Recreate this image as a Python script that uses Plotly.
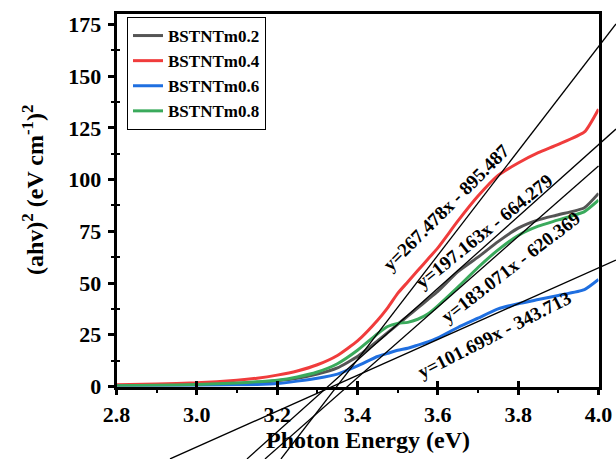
import plotly.graph_objects as go

# ---------------- data ----------------
energy = [2.8, 2.9, 3.0, 3.1, 3.15, 3.2, 3.25, 3.3, 3.35, 3.4, 3.45, 3.475, 3.5,
          3.525, 3.55, 3.575, 3.6, 3.65, 3.7, 3.75, 3.8, 3.85, 3.9, 3.965, 4.0]
m02 = [0.4, 0.6, 0.9, 1.5, 2.0, 2.8, 4.0, 6.0, 9.0, 14.5, 22.0, 26.0, 30.0,
       34.0, 38.0, 42.0, 46.0, 55.5, 62.5, 70.0, 76.5, 80.5, 83.0, 86.4, 93.3]
m04 = [0.8, 1.2, 1.8, 3.0, 4.0, 5.5, 7.5, 10.5, 15.0, 22.0, 32.0, 38.0, 45.0,
       50.5, 56.0, 61.5, 67.0, 80.0, 92.0, 102.0, 108.0, 113.0, 117.0, 123.0, 134.0]
m06 = [0.2, 0.3, 0.5, 0.8, 1.0, 1.4, 2.6, 4.0, 6.0, 10.0, 14.5, 16.0, 17.5,
       18.5, 20.0, 21.5, 23.5, 28.5, 33.0, 37.5, 40.0, 42.0, 44.0, 46.8, 51.7]
m08 = [0.4, 0.6, 1.0, 1.7, 2.3, 3.0, 4.6, 7.0, 11.0, 17.5, 25.5, 29.0, 30.5,
       31.0, 32.5, 35.0, 39.0, 48.0, 57.5, 66.0, 73.0, 77.5, 80.5, 84.5, 90.0]

series_names = ["BSTNTm0.2", "BSTNTm0.4", "BSTNTm0.6", "BSTNTm0.8"]
series_values = [m02, m04, m06, m08]
series_colors = ["#555555", "#F03C3C", "#1F6FE0", "#3AAA5C"]

# tangent (fit) lines: label, start point, end point (data units)
fit_labels = ["y=267.478x - 895.487", "y=197.163x - 664.279",
              "y=183.071x - 620.369", "y=101.699x - 343.713"]
fit_x0 = [3.2095, 3.1249, 3.1697, 2.9332]
fit_y0 = [-35.0, -35.0, -35.0, -35.0]
fit_x1 = [4.0435, 4.0435, 4.0, 4.0435]
fit_y1 = [175.2, 124.4, 106.6, 61.1]
# label anchor positions (data units) and rotation
label_x = [3.620, 3.715, 3.780, 3.742]
label_y = [86.7, 74.7, 57.7, 24.9]
label_angle = [-45, -39, -37.5, -27]

x_ticks = [2.8, 3.0, 3.2, 3.4, 3.6, 3.8, 4.0]
y_ticks = [0, 25, 50, 75, 100, 125, 150, 175]
y_minor = [12.5, 37.5, 62.5, 87.5, 112.5, 137.5, 162.5]

# ---------------- layout geometry ----------------
W, H = 616, 459
L, R = 116.5, 598.5
T, B = 14.0, 386.5
xr = [2.8, 4.0]
yr = [0.0, 180.0]
xd = [L / W, R / W]
yd = [1 - B / H, 1 - T / H]
sx = (R - L) / (xr[1] - xr[0])
sy = (B - T) / (yr[1] - yr[0])
# full-figure overlay scale, identical units to the main axes
x2r = [xr[0] - L / sx, xr[1] + (W - R) / sx]
y2r = [yr[0] - (H - B) / sy, yr[1] + T / sy]

FONT = "Liberation Serif"

fig = go.Figure()
for name, vals, col in zip(series_names, series_values, series_colors):
    fig.add_trace(go.Scatter(x=energy, y=vals, mode="lines", name=name,
                             line=dict(color=col, width=3, shape="spline", smoothing=0.5),
                             xaxis="x", yaxis="y"))

for i in range(len(fit_labels)):
    fig.add_trace(go.Scatter(x=[fit_x0[i], fit_x1[i]], y=[fit_y0[i], fit_y1[i]],
                             mode="lines", showlegend=False,
                             line=dict(color="black", width=1.3),
                             xaxis="x2", yaxis="y2"))

# empty trace for the crossing-tick overlay axes
fig.add_trace(go.Scatter(x=[], y=[], xaxis="x3", yaxis="y3", showlegend=False))

for i in range(len(fit_labels)):
    fig.add_annotation(x=label_x[i], y=label_y[i], xref="x", yref="y",
                       text=fit_labels[i], showarrow=False, textangle=label_angle[i],
                       xanchor="center", yanchor="middle",
                       font=dict(family=FONT, size=19, color="black", weight="bold"))

fig.add_annotation(x=368 / W, y=1 - 440 / H, xref="paper", yref="paper",
                   text="Photon Energy (eV)", showarrow=False,
                   xanchor="center", yanchor="middle",
                   font=dict(family=FONT, size=24, color="black", weight="bold"))
fig.add_annotation(x=33 / W, y=1 - 190 / H, xref="paper", yref="paper",
                   text="(ahv)<sup>2</sup> (eV cm<sup>-1</sup>)<sup>2</sup>",
                   showarrow=False, textangle=-90,
                   xanchor="center", yanchor="middle",
                   font=dict(family=FONT, size=24, color="black", weight="bold"))

tickfont = dict(family=FONT, size=22, color="black", weight="bold")

fig.update_layout(
    template="none",
    width=W, height=H,
    margin=dict(l=0, r=0, t=0, b=0, pad=0, autoexpand=False),
    paper_bgcolor="white", plot_bgcolor="rgba(0,0,0,0)",
    font=dict(family=FONT, color="black"),
    showlegend=True,
    legend=dict(x=127 / W, y=1 - 17 / H, xanchor="left", yanchor="top",
                bordercolor="black", borderwidth=1, bgcolor="white",
                font=dict(family=FONT, size=17, color="black", weight="bold"),
                itemwidth=30, tracegroupgap=0),
    xaxis=dict(domain=xd, range=xr, anchor="y", automargin=False, showline=True,
               linecolor="black", linewidth=2.5, mirror=True, ticks="outside",
               ticklen=6, tickwidth=2.5, tickcolor="black", tickvals=x_ticks,
               ticktext=[f"{v:.1f}" for v in x_ticks],
               tickfont=tickfont, showgrid=False, zeroline=False,
               minor=dict(dtick=0.1, tick0=2.8, ticks="outside", ticklen=4, tickwidth=2,
                          tickcolor="black", showgrid=False)),
    yaxis=dict(domain=yd, range=yr, anchor="x", automargin=False, showline=True,
               linecolor="black", linewidth=2.5, mirror=True, ticks="outside",
               ticklen=6, tickwidth=2.5, tickcolor="black", tickvals=y_ticks,
               ticktext=[str(v) for v in y_ticks],
               tickfont=tickfont, showgrid=False, zeroline=False, ticklabelstandoff=2,
               minor=dict(tickvals=y_minor, ticks="outside", ticklen=3, tickwidth=2,
                          tickcolor="black", showgrid=False)),
    xaxis2=dict(domain=[0, 1], range=x2r, anchor="y2", visible=False, fixedrange=True,
                automargin=False),
    yaxis2=dict(domain=[0, 1], range=y2r, anchor="x2", visible=False, fixedrange=True,
                automargin=False),
    xaxis3=dict(overlaying="x", range=xr, anchor="y", automargin=False, showline=False,
                showgrid=False, zeroline=False, showticklabels=False, ticks="inside",
                ticklen=6, tickwidth=2.5, tickcolor="black", tickvals=x_ticks),
    yaxis3=dict(overlaying="y", range=yr, anchor="x", automargin=False, showline=False,
                showgrid=False, zeroline=False, showticklabels=False, ticks="inside",
                ticklen=3, tickwidth=2, tickcolor="black", tickvals=y_minor),
)

fig.write_html("out.html")
